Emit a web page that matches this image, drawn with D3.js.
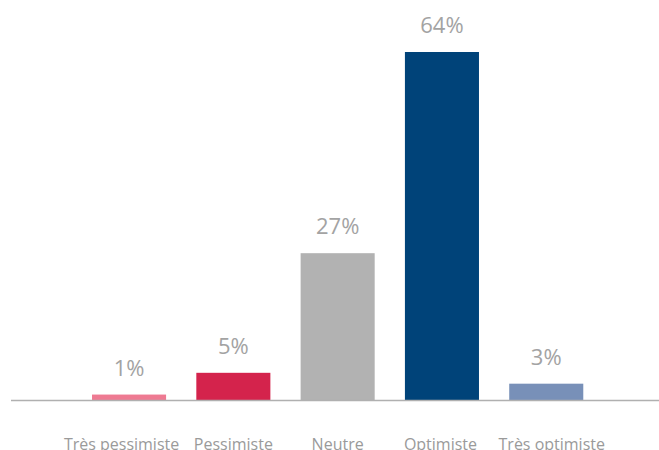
<!DOCTYPE html>
<html>
<head>
<meta charset="utf-8">
<script src="https://cdn.jsdelivr.net/npm/d3@7"></script>
<style>
  html, body { margin: 0; padding: 0; background: #fff; }
  svg { display: block; }
</style>
</head>
<body>
<svg id="chart" width="659" height="450"></svg>
<script>
const categories = ["Très pessimiste", "Pessimiste", "Neutre", "Optimiste", "Très optimiste"];
const values = [1, 5, 27, 64, 3];
const valueLabels = ["1%", "5%", "27%", "64%", "3%"];
const colors = ["#ee7a92", "#d4234c", "#b2b2b2", "#004379", "#7890b8"];

const svg = d3.select("#chart");
const baseline = 400;

const x = d3.scaleBand()
  .domain(categories)
  .range([76.9, 598.4])
  .paddingInner(0.29)
  .paddingOuter(0.145);

const y = d3.scaleLinear()
  .domain([0, 64])
  .range([baseline, 52]);

const data = categories.map((c, i) => ({ c, i, v: values[i], label: valueLabels[i], color: colors[i] }));

svg.selectAll("rect.bar")
  .data(data)
  .enter().append("rect")
  .attr("class", "bar")
  .attr("x", d => x(d.c))
  .attr("width", x.bandwidth())
  .attr("y", d => y(d.v))
  .attr("height", d => baseline - y(d.v))
  .attr("fill", d => d.color);

// axis line
svg.append("line")
  .attr("x1", 11).attr("x2", 659)
  .attr("y1", baseline + 0.5).attr("y2", baseline + 0.5)
  .attr("stroke", "#b0b0b0")
  .attr("stroke-width", 1.6);

svg.selectAll("text.val")
  .data(data)
  .enter().append("text")
  .attr("class", "val")
  .attr("x", d => x(d.c) + x.bandwidth() / 2)
  .attr("y", d => y(d.v) - 19)
  .attr("text-anchor", "middle")
  .attr("font-family", "'Open Sans', sans-serif")
  .attr("font-size", 22)
  .attr("fill", "#a3a3a3")
  .text(d => d.label);

// small horizontal nudges so the category labels sit like the original's
const labelNudge = [-7.5, 0, 0, -1.5, 5.5];
svg.selectAll("text.cat")
  .data(data)
  .enter().append("text")
  .attr("class", "cat")
  .attr("x", d => x(d.c) + x.bandwidth() / 2 + labelNudge[d.i])
  .attr("y", 449.5)
  .attr("text-anchor", "middle")
  .attr("font-family", "'Open Sans', sans-serif")
  .attr("font-size", 16)
  .attr("fill", "#9a9a9a")
  .text(d => d.c);
</script>
</body>
</html>
